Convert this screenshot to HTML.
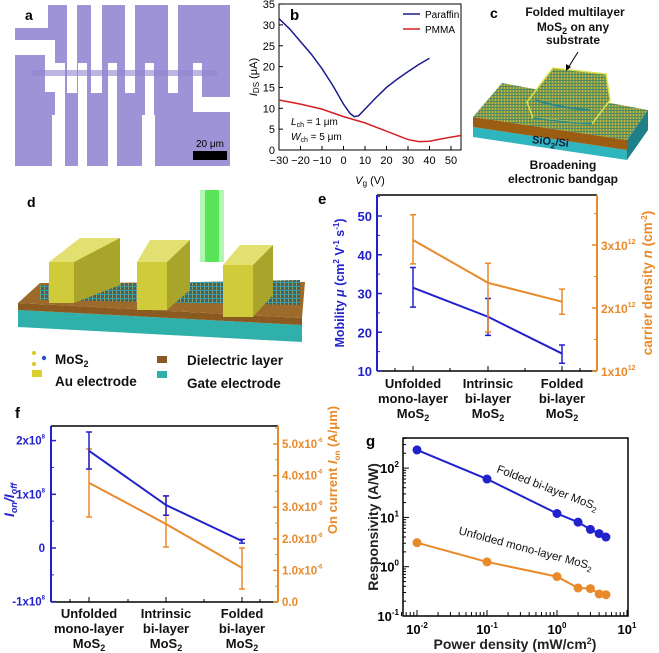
<!DOCTYPE html>
<html><head><meta charset="utf-8">
<style>
html,body{margin:0;padding:0;background:#fff;}
svg{display:block;font-family:"Liberation Sans",Arial,sans-serif;}
.bt{font-weight:bold;}
</style></head>
<body>
<svg id="fig" width="659" height="653" viewBox="0 0 659 653" xmlns="http://www.w3.org/2000/svg">
<defs>
<pattern id="mos" width="3" height="3" patternUnits="userSpaceOnUse"><rect width="3" height="3" fill="#7d9a45"/><rect width="1" height="3" fill="#c9b64a"/><rect y="2" width="3" height="1" fill="#4f8a6a"/></pattern>
<pattern id="mosd" width="4" height="4" patternUnits="userSpaceOnUse"><rect width="4" height="4" fill="#3a6470"/><rect width="1" height="4" fill="#9a9a60"/><rect y="2" width="4" height="1" fill="#2aa0a8"/></pattern>
</defs>

<!-- Panel a -->
<g>
<rect x="15" y="5" width="215" height="161" fill="#9d93d6"/>
<g fill="#ffffff">
<rect x="15" y="5" width="33" height="23"/>
<rect x="15" y="40" width="40" height="15"/>
<rect x="45" y="40" width="10" height="52"/>
<rect x="67" y="5" width="10" height="88"/>
<rect x="91" y="5" width="11" height="88"/>
<rect x="125" y="5" width="10" height="88"/>
<rect x="168" y="5" width="10" height="88"/>
<rect x="55" y="63" width="10" height="103"/>
<rect x="52" y="115" width="13" height="51"/>
<rect x="78" y="63" width="9" height="103"/>
<rect x="108" y="63" width="9" height="103"/>
<rect x="145" y="63" width="9" height="103"/>
<rect x="142" y="115" width="13" height="51"/>
<rect x="193" y="63" width="9" height="49"/>
<rect x="193" y="97" width="37" height="15"/>
</g>
<rect x="32" y="70" width="185" height="6" fill="#8f86d0" opacity="0.6"/>
<rect x="193" y="151" width="34" height="9" fill="#000"/>
<text x="210" y="147" font-size="10" text-anchor="middle" fill="#000">20 μm</text>
<text x="25" y="20" font-size="14" class="bt">a</text>
</g>

<!-- Panel b -->
<g id="pb"></g>

<!-- Panel c -->
<g>
<polygon points="473,127 627,150 627,160 473,137" fill="#2fb5bd"/>
<polygon points="473,117 627,140 627,150 473,127" fill="#9a5d12"/>
<polygon points="627,140 648,110 648,130 627,160" fill="#1f8088"/>
<polygon points="473,117 502,83 648,110 627,140" fill="url(#mos)"/>
<polygon points="527,102 553,68 606,74 610,100 592,124 533,118" fill="url(#mos)" stroke="#d9e04a" stroke-width="1.5"/>
<path d="M535,100 Q560,108 590,110" stroke="#2e8a8a" stroke-width="2" fill="none"/>
<path d="M533,118 Q562,122 592,124" stroke="#2e8a8a" stroke-width="1.5" fill="none"/>
<line x1="578" y1="52" x2="568" y2="68" stroke="#000" stroke-width="1"/>
<polygon points="566,71 566,64 571,67" fill="#000"/>
<text x="532" y="145" font-size="11" class="bt" fill="#102040" transform="rotate(6 550 142)">SiO<tspan font-size="8" dy="3">2</tspan><tspan dy="-3">/Si</tspan></text>
<g font-size="12" class="bt" text-anchor="middle" fill="#111">
<text x="575" y="16">Folded  multilayer</text>
<text x="573" y="31">MoS<tspan font-size="9" dy="3">2</tspan><tspan dy="-3"> on any</tspan></text>
<text x="573" y="44">substrate</text>
<text x="563" y="169">Broadening</text>
<text x="563" y="183">electronic bandgap</text>
</g>
<text x="490" y="18" font-size="14" class="bt">c</text>
</g>

<!-- Panel d -->
<g>
<polygon points="18,310 302,325 302,342 18,327" fill="#2fb0aa"/>
<polygon points="18,303 302,318 302,325 18,310" fill="#8a5a20"/>
<polygon points="18,303 40,283 305,282 302,318" fill="#9c6a2a"/>
<polygon points="40,285 300,280 300,305 40,300" fill="url(#mosd)"/>
<polygon points="49,262 80,238 120,238 74,262" fill="#e2e070"/>
<polygon points="74,262 120,238 120,285 74,303" fill="#a8a52a"/>
<rect x="49" y="262" width="25" height="41" fill="#cfcb3a"/>
<polygon points="137,262 150,240 190,240 167,262" fill="#e2e070"/>
<polygon points="167,262 190,240 190,290 167,310" fill="#a8a52a"/>
<rect x="137" y="262" width="30" height="48" fill="#cfcb3a"/>
<polygon points="223,265 240,245 273,245 253,265" fill="#e2e070"/>
<polygon points="253,265 273,245 273,295 253,317" fill="#a8a52a"/>
<rect x="223" y="265" width="30" height="52" fill="#cfcb3a"/>
<rect x="200" y="190" width="24" height="72" fill="#66ee66" opacity="0.5"/>
<rect x="205" y="190" width="14" height="72" fill="#33dd33" opacity="0.7"/>
<circle cx="34" cy="353" r="2" fill="#d8c820"/><circle cx="34" cy="364" r="2" fill="#d8c820"/><circle cx="44" cy="358" r="2.2" fill="#2a50c0"/>
<rect x="32" y="370" width="10" height="7" fill="#d8d030"/>
<rect x="157" y="356" width="10" height="7" fill="#8a5a20"/>
<rect x="157" y="371" width="10" height="7" fill="#2fb0aa"/>
<g font-size="13.5" class="bt" fill="#111">
<text x="55" y="364">MoS<tspan font-size="9" dy="3">2</tspan></text>
<text x="55" y="386">Au electrode</text>
<text x="187" y="365">Dielectric layer</text>
<text x="187" y="388">Gate electrode</text>
</g>
<text x="27" y="207" font-size="14" class="bt">d</text>
</g>

<g id="pe"></g>
<g id="pf"></g>
<g id="pg"></g>
</svg>
<script>
// ---- Panel b data ----
const bParaffinV = [-30,-25,-20,-15,-10,-5,0,3,5,7,10,15,20,25,30,35,40];
const bParaffinI = [31.5,29,26,23,19.5,15.5,11,8.8,8,8.2,9.8,12.5,15,17,18.8,20.5,22];
const bPmmaV = [-30,-20,-10,0,10,20,30,35,40,45,50,55];
const bPmmaI = [12,11,9.8,8,6.5,4.5,2.5,2,2.1,2.6,3.1,3.5];
const bXTicks = [-30,-20,-10,0,10,20,30,40,50];
const bYTicks = [0,5,10,15,20,25,30,35];
// ---- Panel e data ----
const eCategories = ["Unfolded|mono-layer|MoS2","Intrinsic|bi-layer|MoS2","Folded|bi-layer|MoS2"];
const eMobility = [31.5,24,14.5];
const eMobErrLo = [26.5,19.2,12];
const eMobErrHi = [36.7,28.7,16.7];
const eDensity = [3.08,2.40,2.10];
const eDenErrLo = [2.70,1.62,1.90];
const eDenErrHi = [3.48,2.71,2.30];
const eLeftTicks = [10,20,30,40,50];
const eRightTicks = [1,2,3];
// ---- Panel f data ----
const fRatio = [1.81,0.80,0.13];
const fRatioLo = [1.47,0.61,0.09];
const fRatioHi = [2.16,0.97,0.16];
const fCurrent = [3.77,2.47,1.08];
const fCurLo = [2.69,1.74,0.41];
const fCurHi = [4.84,3.35,1.71];
const fLeftTicks = [-1,0,1,2];
const fLeftLabels = ["-1x10","0","1x10","2x10"];
const fRightTicks = [0,1,2,3,4,5];
// ---- Panel g data ----
const gPower = [0.01,0.1,1,2,3,4,5];
const gFolded = [234,60,12,8,5.7,4.7,4.0];
const gUnfolded = [3.07,1.25,0.63,0.37,0.36,0.28,0.27];
const gXTicks = [-2,-1,0,1];
const gYTicks = [-1,0,1,2];

const NS="http://www.w3.org/2000/svg";
function mk(parent,tag,attrs,txt){const el=document.createElementNS(NS,tag);for(const k in attrs)el.setAttribute(k,attrs[k]);if(txt!==undefined)el.textContent=txt;parent.appendChild(el);return el;}
function pts(xs,ys,fx,fy){return xs.map((x,i)=>fx(x)+","+fy(ys[i])).join(" ");}

const BLUE="#2222cc", ORANGE="#e88a2a";

// ===== Panel b =====
(function(){
const g=document.getElementById('pb');
const xb=v=>279+(v+30)*2.15, yb=v=>150-v*4.17;
let el=mk(g,'rect',{x:279,y:4,width:182,height:146,fill:'none',stroke:'#000','stroke-width':1});


bXTicks.forEach(t=>{mk(g,'line',{x1:xb(t),x2:xb(t),y1:150,y2:146,stroke:'#000'});
 el=mk(g,'text',{x:xb(t),y:164,'font-size':11,'text-anchor':'middle'},t<0?'\u2212'+(-t):String(t));
 
 });
bYTicks.forEach(t=>{mk(g,'line',{x1:279,x2:283,y1:yb(t),y2:yb(t),stroke:'#000'});
 el=mk(g,'text',{x:275,y:yb(t)+4,'font-size':11,'text-anchor':'end'},String(t));
 
 });
el=mk(g,'polyline',{points:pts(bPmmaV,bPmmaI,xb,yb),fill:'none',stroke:'#d42020','stroke-width':1.5});


el=mk(g,'polyline',{points:pts(bParaffinV,bParaffinI,xb,yb),fill:'none',stroke:'#1c1c8c','stroke-width':1.5});


mk(g,'line',{x1:403,x2:420,y1:14,y2:14,stroke:'#1c1c8c','stroke-width':1.5});
el=mk(g,'text',{x:425,y:18,'font-size':10},'Paraffin');


mk(g,'line',{x1:403,x2:420,y1:29,y2:29,stroke:'#d42020','stroke-width':1.5});
el=mk(g,'text',{x:425,y:33,'font-size':10},'PMMA');


el=mk(g,'text',{x:290,y:20,'font-size':15,'class':'bt'},'b');


g.insertAdjacentHTML('beforeend','<text x="291" y="125" font-size="10"><tspan font-style="italic">L</tspan><tspan font-size="7" dy="2">ch</tspan><tspan dy="-2"> = 1 μm</tspan></text><text x="291" y="140" font-size="10"><tspan font-style="italic">W</tspan><tspan font-size="7" dy="2">ch</tspan><tspan dy="-2"> = 5 μm</tspan></text><text x="370" y="184" font-size="11" text-anchor="middle"><tspan font-style="italic">V</tspan><tspan font-size="8" dy="2">g</tspan><tspan dy="-2"> (V)</tspan></text><text transform="translate(257,77) rotate(-90)" font-size="11" text-anchor="middle"><tspan font-style="italic">I</tspan><tspan font-size="8" dy="2">DS</tspan><tspan dy="-2"> (μA)</tspan></text>');
})();

function catLabels(g,xs,y0,name){
 eCategories.forEach((c,i)=>{const parts=c.split('|');
  parts.forEach((p,j)=>{let el;
   if(p==='MoS2'){el=mk(g,'text',{x:xs[i],y:y0+j*15,'font-size':13,'text-anchor':'middle','class':'bt',fill:'#111'});
     el.innerHTML='MoS<tspan font-size="9" dy="3">2</tspan>';}
   else el=mk(g,'text',{x:xs[i],y:y0+j*15,'font-size':13,'text-anchor':'middle','class':'bt',fill:'#111'},p);
   
   });});
}
function errbar(g,x,ylo,yhi,col,name){
 const el=mk(g,'path',{d:`M${x},${ylo}V${yhi}M${x-3},${ylo}H${x+3}M${x-3},${yhi}H${x+3}`,stroke:col,'stroke-width':1.5,fill:'none'});
 
 
}

// ===== Panel e =====
(function(){
const g=document.getElementById('pe');
const xs=[413,488,562];
const ye=v=>371-(v-10)*3.875, yn=v=>371-(v-1)*63;
let el;
mk(g,'line',{x1:377,x2:597,y1:195,y2:195,stroke:'#000','stroke-width':1.5});
mk(g,'line',{x1:377,x2:597,y1:371,y2:371,stroke:'#000','stroke-width':1.5});
el=mk(g,'line',{x1:377,x2:377,y1:195,y2:371,stroke:BLUE,'stroke-width':2});


el=mk(g,'line',{x1:597,x2:597,y1:195,y2:371,stroke:ORANGE,'stroke-width':2});


[377+18,450,525,580].forEach(x=>mk(g,'line',{x1:x,x2:x,y1:371,y2:368,stroke:'#000'}));
xs.forEach(x=>mk(g,'line',{x1:x,x2:x,y1:371,y2:366,stroke:'#000'}));
eLeftTicks.forEach(t=>{mk(g,'line',{x1:377,x2:382,y1:ye(t),y2:ye(t),stroke:BLUE,'stroke-width':1.5});
 mk(g,'line',{x1:377,x2:380,y1:ye(t+5),y2:ye(t+5),stroke:BLUE});
 el=mk(g,'text',{x:372,y:ye(t)+5,'font-size':13,'text-anchor':'end','class':'bt',fill:BLUE},String(t));
 
 });
eRightTicks.forEach(t=>{mk(g,'line',{x1:592,x2:597,y1:yn(t),y2:yn(t),stroke:ORANGE,'stroke-width':1.5});
 mk(g,'line',{x1:594,x2:597,y1:yn(t+0.5),y2:yn(t+0.5),stroke:ORANGE});
 el=mk(g,'text',{x:601,y:yn(t)+5,'font-size':12,'class':'bt',fill:ORANGE});
 el.innerHTML=t+'x10<tspan font-size="7" dy="-6">12</tspan>';
 
 });
el=mk(g,'polyline',{points:pts(xs,eMobility,x=>x,ye),fill:'none',stroke:BLUE,'stroke-width':2});


xs.forEach((x,i)=>errbar(g,x,ye(eMobErrLo[i]),ye(eMobErrHi[i]),BLUE,'mobility-error-bar'));
el=mk(g,'polyline',{points:pts(xs,eDensity,x=>x,yn),fill:'none',stroke:ORANGE,'stroke-width':2});


xs.forEach((x,i)=>errbar(g,x,yn(eDenErrLo[i]),yn(eDenErrHi[i]),ORANGE,'density-error-bar'));
catLabels(g,xs,388,'e-category-label');
g.insertAdjacentHTML('beforeend','<text transform="translate(344,283) rotate(-90)" font-size="12.5" class="bt" fill="'+BLUE+'" text-anchor="middle">Mobility <tspan font-style="italic">μ</tspan> (cm<tspan font-size="8" dy="-5">2</tspan><tspan dy="5"> V</tspan><tspan font-size="8" dy="-5">-1</tspan><tspan dy="5"> s</tspan><tspan font-size="8" dy="-5">-1</tspan><tspan dy="5">)</tspan></text><text transform="translate(652,283) rotate(-90)" font-size="13.5" class="bt" fill="'+ORANGE+'" text-anchor="middle">carrier density <tspan font-style="italic">n</tspan> (cm<tspan font-size="8" dy="-5">-2</tspan><tspan dy="5">)</tspan></text><text x="318" y="204" font-size="15" class="bt">e</text>');
})();

// ===== Panel f =====
(function(){
const g=document.getElementById('pf');
const xs=[89,166,242];
const yf=v=>548-v*53.7, yc=v=>602-v*31.6;
let el;
mk(g,'line',{x1:51,x2:278,y1:426,y2:426,stroke:'#000','stroke-width':1.5});
mk(g,'line',{x1:51,x2:278,y1:602,y2:602,stroke:'#000','stroke-width':1.5});
el=mk(g,'line',{x1:51,x2:51,y1:426,y2:602,stroke:BLUE,'stroke-width':2});


el=mk(g,'line',{x1:278,x2:278,y1:426,y2:602,stroke:ORANGE,'stroke-width':2});


xs.forEach(x=>mk(g,'line',{x1:x,x2:x,y1:602,y2:597,stroke:'#000'}));
[70,128,204,260].forEach(x=>mk(g,'line',{x1:x,x2:x,y1:602,y2:599,stroke:'#000'}));
fLeftTicks.forEach((t,i)=>{mk(g,'line',{x1:51,x2:56,y1:yf(t),y2:yf(t),stroke:BLUE,'stroke-width':1.5});
 if(yf(t+0.5)>428) mk(g,'line',{x1:51,x2:54,y1:yf(t+0.5),y2:yf(t+0.5),stroke:BLUE});
 el=mk(g,'text',{x:45,y:yf(t)+4,'font-size':11.5,'text-anchor':'end','class':'bt',fill:BLUE});
 el.innerHTML=t===0?'0':fLeftLabels[i]+'<tspan font-size="6" dy="-6">8</tspan>';
 
 });
fRightTicks.forEach(t=>{mk(g,'line',{x1:273,x2:278,y1:yc(t),y2:yc(t),stroke:ORANGE,'stroke-width':1.5});
 if(yc(t+0.5)>428) mk(g,'line',{x1:275,x2:278,y1:yc(t+0.5),y2:yc(t+0.5),stroke:ORANGE});
 el=mk(g,'text',{x:282,y:yc(t)+4,'font-size':11.5,'class':'bt',fill:ORANGE});
 el.innerHTML=t===0?'0.0':t.toFixed(1)+'x10<tspan font-size="6" dy="-6">-6</tspan>';
 
 });
el=mk(g,'polyline',{points:pts(xs,fCurrent,x=>x,yc),fill:'none',stroke:ORANGE,'stroke-width':2});


xs.forEach((x,i)=>errbar(g,x,yc(fCurLo[i]),yc(fCurHi[i]),ORANGE,'on-current-error-bar'));
el=mk(g,'polyline',{points:pts(xs,fRatio,x=>x,yf),fill:'none',stroke:BLUE,'stroke-width':2});


xs.forEach((x,i)=>errbar(g,x,yf(fRatioLo[i]),yf(fRatioHi[i]),BLUE,'on-off-error-bar'));
catLabels(g,xs,618,'f-category-label');
g.insertAdjacentHTML('beforeend','<text transform="translate(14,500) rotate(-90)" font-size="14" class="bt" fill="'+BLUE+'" text-anchor="middle" font-style="italic">I<tspan font-size="9" dy="3">on</tspan><tspan dy="-3">/I</tspan><tspan font-size="9" dy="3">off</tspan></text><text transform="translate(337,470) rotate(-90)" font-size="13" class="bt" fill="'+ORANGE+'" text-anchor="middle">On current <tspan font-style="italic">I</tspan><tspan font-size="8" dy="3">on</tspan><tspan dy="-3"> (A/μm)</tspan></text><text x="15" y="418" font-size="15" class="bt">f</text>');
})();

// ===== Panel g =====
(function(){
const g=document.getElementById('pg');
const xg=v=>417+(Math.log10(v)+2)*70, yg=v=>616-(Math.log10(v)+1)*49.3;
let el=mk(g,'rect',{x:403,y:438,width:225,height:178,fill:'none',stroke:'#000','stroke-width':1.5});


gXTicks.forEach(e=>{const x=xg(Math.pow(10,e));
 mk(g,'line',{x1:x,x2:x,y1:616,y2:610,stroke:'#000'});
 if(e<1)for(let m=2;m<10;m++){const xm=xg(m*Math.pow(10,e));if(xm<628)mk(g,'line',{x1:xm,x2:xm,y1:616,y2:612,stroke:'#000'});}
 el=mk(g,'text',{x:x,y:634,'font-size':13,'text-anchor':'middle','class':'bt'});
 el.innerHTML='10<tspan font-size="8" dy="-6">'+e+'</tspan>';
 
 });
[6,7,8,9].forEach(m=>{const xm=xg(m*0.001);mk(g,'line',{x1:xm,x2:xm,y1:616,y2:612,stroke:'#000'});});
gYTicks.forEach(e=>{const y=yg(Math.pow(10,e));
 mk(g,'line',{x1:403,x2:409,y1:y,y2:y,stroke:'#000'});
 for(let m=2;m<10;m++){const ym=yg(m*Math.pow(10,e));if(ym>438)mk(g,'line',{x1:403,x2:406,y1:ym,y2:ym,stroke:'#000'});}
 el=mk(g,'text',{x:399,y:y+5,'font-size':13,'text-anchor':'end','class':'bt'});
 el.innerHTML='10<tspan font-size="8" dy="-6">'+e+'</tspan>';
 
 });
el=mk(g,'polyline',{points:pts(gPower,gFolded,xg,yg),fill:'none',stroke:BLUE,'stroke-width':2});


gPower.forEach((p,i)=>{el=mk(g,'circle',{cx:xg(p),cy:yg(gFolded[i]),r:4.5,fill:BLUE});
 
 });
el=mk(g,'polyline',{points:pts(gPower,gUnfolded,xg,yg),fill:'none',stroke:ORANGE,'stroke-width':2});


gPower.forEach((p,i)=>{el=mk(g,'circle',{cx:xg(p),cy:yg(gUnfolded[i]),r:4.5,fill:ORANGE});
 
 });
g.insertAdjacentHTML('beforeend','<text transform="translate(496,472) rotate(21)" font-size="11.5" fill="#111">Folded bi-layer MoS<tspan font-size="8" dy="3">2</tspan></text><text transform="translate(458,534) rotate(15)" font-size="11.5" fill="#111">Unfolded mono-layer MoS<tspan font-size="8" dy="3">2</tspan></text><text x="515" y="649" font-size="14" class="bt" text-anchor="middle" fill="#222">Power density (mW/cm<tspan font-size="9" dy="-5">2</tspan><tspan dy="5">)</tspan></text><text transform="translate(378,527) rotate(-90)" font-size="14" class="bt" text-anchor="middle" fill="#222">Responsivity (A/W)</text><text x="366" y="446" font-size="15" class="bt">g</text>');
})();
</script>
</body></html>
